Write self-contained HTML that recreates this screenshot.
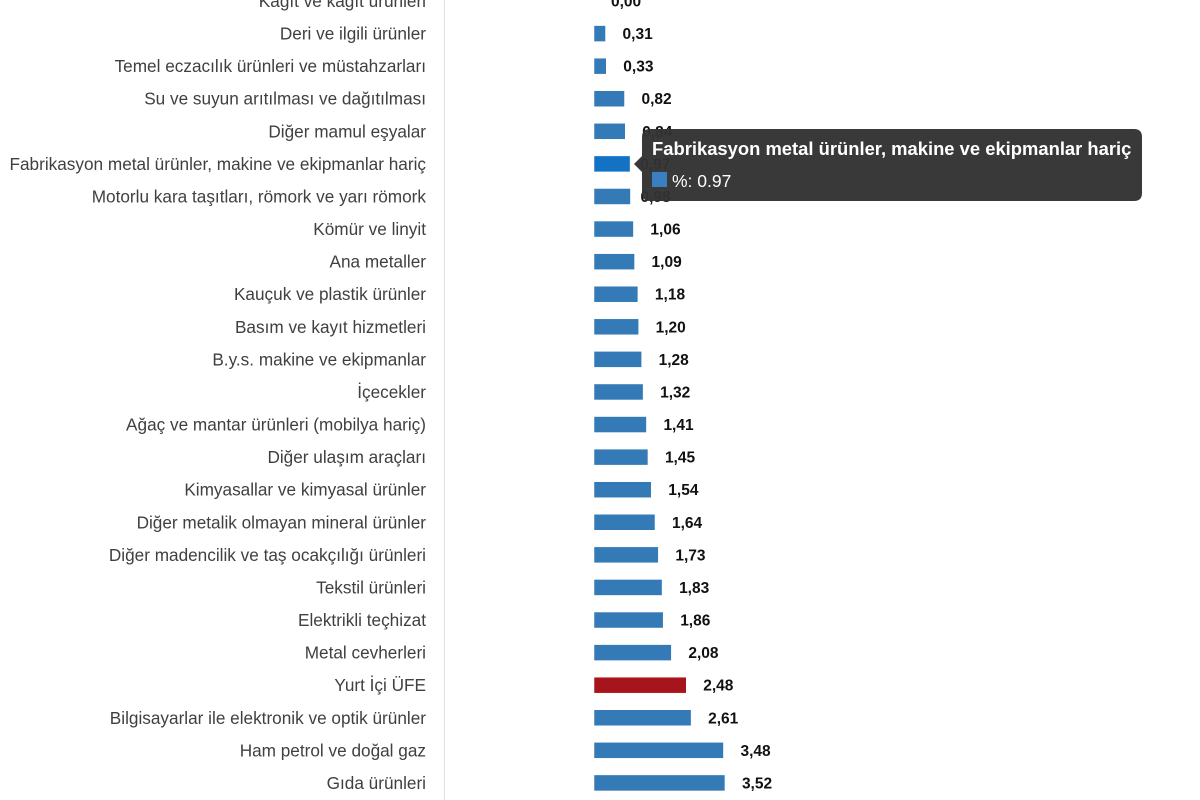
<!DOCTYPE html>
<html><head><meta charset="utf-8"><style>
html,body{margin:0;padding:0;background:#fff;}
svg{display:block;}
.c{font-family:"Liberation Sans",sans-serif;font-size:17.2px;fill:#404040;}
.v{font-family:"Liberation Sans",sans-serif;font-size:15.5px;font-weight:bold;fill:#111;}
</style></head><body>
<svg width="1200" height="800" xmlns="http://www.w3.org/2000/svg">
<line x1="444.5" y1="0" x2="444.5" y2="800" stroke="#e0e0e0" stroke-width="1"/>
<g id="rows"></g>
<g>
<path d="M650 129 H1134 Q1142 129 1142 137 V193 Q1142 201 1134 201 H650 Q642 201 642 193 V172 L634 164 L642 156 V137 Q642 129 650 129 Z" fill="#333" fill-opacity="0.97"/>
<text x="652" y="155" font-family="Liberation Sans,sans-serif" font-size="18.4" font-weight="bold" fill="#fff">Fabrikasyon metal ürünler, makine ve ekipmanlar hariç</text>
<rect x="652" y="172" width="15" height="15" fill="#3a7fc1"/>
<text x="672" y="187" font-family="Liberation Sans,sans-serif" font-size="17.5" fill="#fff">%: 0.97</text>
</g>
</svg>
<script>
var d=[["Kağıt ve kağıt ürünleri",0],["Deri ve ilgili ürünler",0.31],["Temel eczacılık ürünleri ve müstahzarları",0.33],["Su ve suyun arıtılması ve dağıtılması",0.82],["Diğer mamul eşyalar",0.84],["Fabrikasyon metal ürünler, makine ve ekipmanlar hariç",0.97],["Motorlu kara taşıtları, römork ve yarı römork",0.98],["Kömür ve linyit",1.06],["Ana metaller",1.09],["Kauçuk ve plastik ürünler",1.18],["Basım ve kayıt hizmetleri",1.20],["B.y.s. makine ve ekipmanlar",1.28],["İçecekler",1.32],["Ağaç ve mantar ürünleri (mobilya hariç)",1.41],["Diğer ulaşım araçları",1.45],["Kimyasallar ve kimyasal ürünler",1.54],["Diğer metalik olmayan mineral ürünler",1.64],["Diğer madencilik ve taş ocakçılığı ürünleri",1.73],["Tekstil ürünleri",1.83],["Elektrikli teçhizat",1.86],["Metal cevherleri",2.08],["Yurt İçi ÜFE",2.48],["Bilgisayarlar ile elektronik ve optik ürünler",2.61],["Ham petrol ve doğal gaz",3.48],["Gıda ürünleri",3.52]];
var g=document.getElementById('rows'),s='',k=37.2;
d.forEach(function(r,i){var y=1+i*32.58,w=r[1]*k;
var col=i==21?'#a8141c':(i==5?'#1372c4':'#337ab7');
s+='<text class="c" x="426" y="'+(y+6)+'" text-anchor="end">'+r[0]+'</text>';
if(w>0)s+='<rect x="594" y="'+(y-8)+'" width="'+w+'" height="16" fill="'+col+'" stroke="#fff" stroke-width="0.5"/>';
s+='<text class="v" x="'+(594+w+(i==5||i==6?10:17))+'" y="'+(y+5.5)+'">'+r[1].toFixed(2).replace('.',',')+'</text>';});
g.innerHTML=s;
</script>
</body></html>
